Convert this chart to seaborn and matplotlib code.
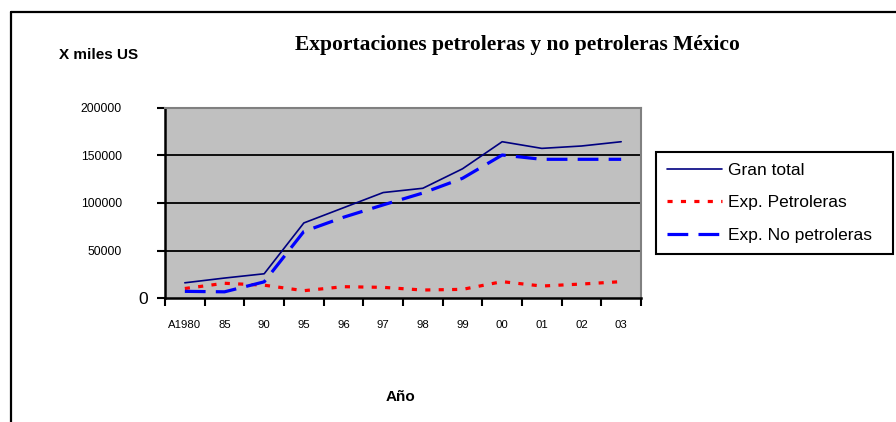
import numpy as np
import pandas as pd
import seaborn as sns
import matplotlib.pyplot as plt
from matplotlib.lines import Line2D

# datos (miles US)
anios = ['A1980', '85', '90', '95', '96', '97', '98', '99', '00', '01', '02', '03']
gran_total = [16000, 21000, 25500, 79000, 95000, 111000, 115500, 136000, 164500, 157500, 160000, 164500]
petroleras = [10000, 15500, 13500, 7700, 11900, 11200, 8400, 9100, 17200, 12600, 14700, 17200]
no_petroleras = [7000, 6500, 17000, 70000, 85000, 98000, 110500, 126000, 150500, 146000, 146000, 146000]

df = pd.DataFrame({'pos': np.arange(len(anios)), 'anio': anios,
                   'Gran total': gran_total,
                   'Exp. Petroleras': petroleras,
                   'Exp. No petroleras': no_petroleras})

sns.set_theme(style='white')
plt.rcParams['font.family'] = ['Liberation Sans', 'DejaVu Sans']
plt.rcParams['text.color'] = 'black'
plt.rcParams['xtick.color'] = 'black'
plt.rcParams['ytick.color'] = 'black'

fig = plt.figure(figsize=(8.96, 4.22), dpi=100)
ax = fig.add_axes([165/896, 1-298/422, 476/896, 190/422])
ax.set_facecolor('#C0C0C0')

sns.lineplot(data=df, x='pos', y='Gran total', ax=ax, color='#000080', lw=1.2, label='Gran total')
sns.lineplot(data=df, x='pos', y='Exp. Petroleras', ax=ax, color='#FF0000', lw=2.3, label='Exp. Petroleras')
ax.lines[-1].set_dashes((1.6, 2.6))
sns.lineplot(data=df, x='pos', y='Exp. No petroleras', ax=ax, color='#0000FF', lw=2.3, label='Exp. No petroleras')
ax.lines[-1].set_dashes((6.5, 3.2))

ax.set_xlim(-0.5, len(anios) - 0.5)
ax.set_ylim(0, 200000)

# grid
for v in [50000, 100000, 150000]:
    ax.axhline(v, color='black', lw=1.3, zorder=1)

# y ticks: 0 grande, resto pequeno
ax.set_yticks([0])
ax.set_yticklabels(['0'], fontsize=12.5)
ax.set_yticks([50000, 100000, 150000, 200000], minor=True)
ax.set_yticklabels(['50000', '100000', '150000', '200000'], minor=True, fontsize=8.8)
ax.tick_params(axis='y', which='major', left=True, length=6, width=1.5, pad=6, color='black')
ax.tick_params(axis='y', which='minor', left=True, length=6, width=1.5, pad=25, color='black')

# x ticks: marcas entre categorias, etiquetas centradas
ax.set_xticks(np.arange(len(anios) + 1) - 0.5)
ax.set_xticklabels([])
ax.set_xticks(np.arange(len(anios)), minor=True)
ax.set_xticklabels(anios, minor=True, fontsize=8.2)
ax.tick_params(axis='x', which='major', bottom=True, length=6, width=1.5, color='black')
ax.tick_params(axis='x', which='minor', bottom=True, length=0, pad=16)

ax.set_xlabel('')
ax.set_ylabel('')
for s in ['left', 'bottom']:
    ax.spines[s].set_color('black')
    ax.spines[s].set_linewidth(1.8)
for s in ['top', 'right']:
    ax.spines[s].set_color('#808080')
    ax.spines[s].set_linewidth(1.5)

leg = ax.legend(loc='upper left', bbox_to_anchor=(656/896, 1-253/422, 237/896, 101/422),
                bbox_transform=fig.transFigure, mode='expand', fontsize=12.5,
                frameon=True, fancybox=False, edgecolor='black', framealpha=1,
                handlelength=3.2, labelspacing=1.0, borderpad=0.62, handletextpad=0.3,
                borderaxespad=0)
leg.get_frame().set_linewidth(1.5)

fig.text(517/896, 1-45/422, 'Exportaciones petroleras y no petroleras México',
         family=['Liberation Serif', 'DejaVu Serif'], fontsize=15.5, fontweight='bold',
         ha='center', va='center')
fig.text(99/896, 1-55/422, 'X miles US', fontsize=11, fontweight='bold', ha='center', va='center')
fig.text(400/896, 1-397/422, 'Año', fontsize=11, fontweight='bold', ha='center', va='center')

# marco del grafico
fig.add_artist(Line2D([10.5/896, 1], [1-11.5/422, 1-11.5/422], color='black', lw=1.6))
fig.add_artist(Line2D([10.5/896, 10.5/896], [0, 1-11.5/422], color='black', lw=1.6))

fig.savefig('out.png', dpi=100)
